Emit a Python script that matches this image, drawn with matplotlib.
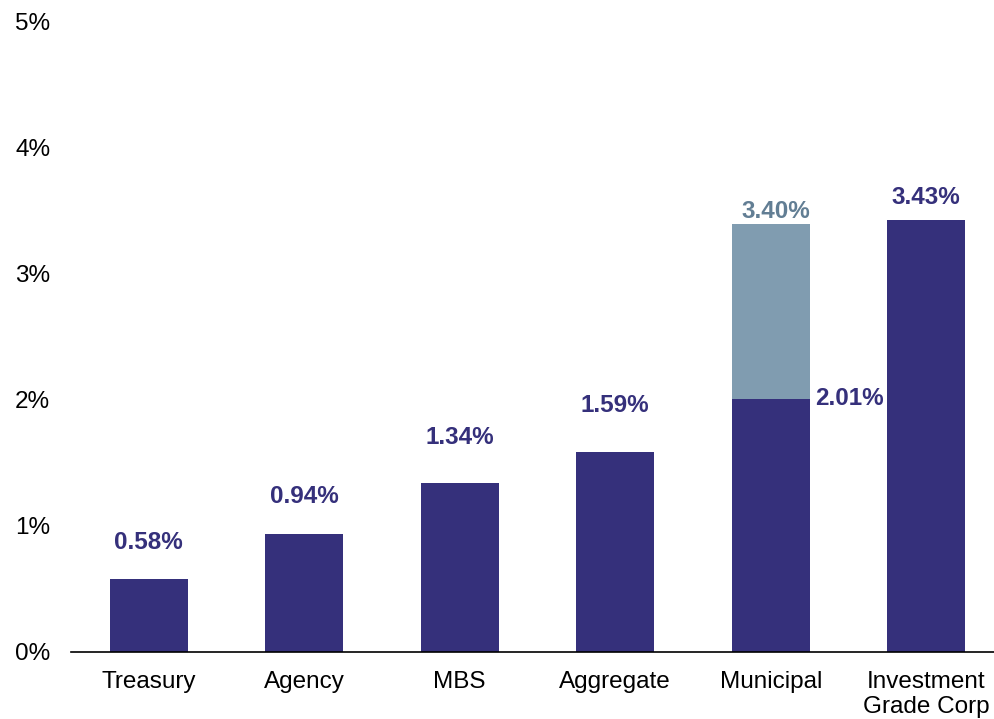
import matplotlib.pyplot as plt

plt.rcParams["font.family"] = ["Liberation Sans", "DejaVu Sans"]

categories = ["Treasury", "Agency", "MBS", "Aggregate", "Municipal", "Investment\nGrade Corp"]
base_values = [0.58, 0.94, 1.34, 1.59, 2.01, 3.43]
# municipal bar also shows the tax-equivalent total on top of the base
muni_total = 3.40
muni_index = 4

NAVY = "#35307B"
SLATE = "#809CB0"
SLATE_TEXT = "#627E94"

# label lift above each bar top, in points
label_lift = [26, 27, 33, 33, None, 16]


def main():
    fig = plt.figure(figsize=(9.94, 7.19), dpi=100)
    ax = fig.add_axes([71 / 994, 1 - 652 / 719, 923 / 994, 630 / 719])

    x = list(range(len(categories)))
    ax.bar(x, base_values, width=0.5, color=NAVY, zorder=2)
    ax.bar(muni_index, muni_total - base_values[muni_index], bottom=base_values[muni_index],
           width=0.5, color=SLATE, zorder=2)

    for i, v in enumerate(base_values):
        if i == muni_index:
            ax.annotate(f"{v:.2f}%", (i + 0.25, v), xytext=(4, 0), textcoords="offset points",
                        ha="left", va="center", fontsize=17.5, fontweight="bold", color=NAVY)
        else:
            ax.annotate(f"{v:.2f}%", (i, v), xytext=(0, label_lift[i]), textcoords="offset points",
                        ha="center", va="center", fontsize=17.5, fontweight="bold", color=NAVY)
    ax.annotate(f"{muni_total:.2f}%", (muni_index, muni_total), xytext=(4, 9),
                textcoords="offset points", ha="center", va="center",
                fontsize=17.5, fontweight="bold", color=SLATE_TEXT)

    ax.set_xlim(-0.5, 5.436)
    ax.set_ylim(0, 5)
    ax.set_yticks([0, 1, 2, 3, 4, 5])
    ax.set_yticklabels([f"{t}%" for t in range(6)])
    ax.set_xticks(x)
    ax.set_xticklabels(categories, linespacing=1.15)
    ax.tick_params(axis="y", length=0, pad=15, labelsize=17.5)
    ax.tick_params(axis="x", length=0, pad=14, labelsize=17.5)

    for side in ["top", "right", "left"]:
        ax.spines[side].set_visible(False)
    ax.spines["bottom"].set_linewidth(1.2)
    ax.spines["bottom"].set_color("black")

    fig.savefig("out.png", dpi=100)
    plt.close(fig)


if __name__ == "__main__":
    main()
